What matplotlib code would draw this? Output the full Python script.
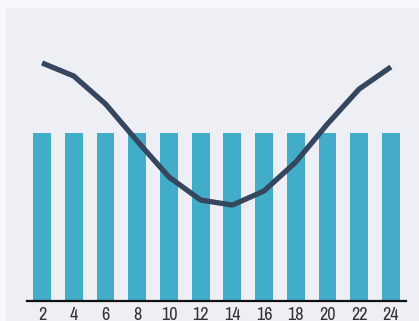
import matplotlib
matplotlib.use("Agg")
import matplotlib.pyplot as plt
from matplotlib.patches import Rectangle

# hours of the day (every second hour) with a constant bar level and a curve
hours = [2, 4, 6, 8, 10, 12, 14, 16, 18, 20, 22, 24]
bar_values = [10, 10, 10, 10, 10, 10, 10, 10, 10, 10, 10, 10]
line_values = [14.17, 13.39, 11.73, 9.52, 7.38, 6.01, 5.71, 6.55, 8.27, 10.54, 12.62, 13.93]
tick_labels = [str(h) for h in hours]

plt.rcParams['font.family'] = ['Liberation Sans Narrow', 'Archivo Narrow', 'DejaVu Sans']

fig = plt.figure(figsize=(4.19, 3.21), dpi=100)
fig.patch.set_facecolor('#f6f7fb')

# inner panel behind the chart
panel = Rectangle((6 / 419, 0), 1 - 6 / 419, 1 - 8 / 321,
                  transform=fig.transFigure, facecolor='#eeeff4',
                  edgecolor='none', zorder=-10)
fig.patches.append(panel)

ax = fig.add_axes([27 / 419, 20 / 321, 379 / 419, 293 / 321])
ax.patch.set_alpha(0)

ax.bar(hours, bar_values, width=1.13, color='#41adc8', zorder=2)
ax.plot(hours, line_values, color='#35475f', linewidth=3.8,
        solid_capstyle='butt', solid_joinstyle='round', zorder=3)

ax.set_xlim(1.05, 24.95)
ax.set_ylim(0, 17.44)
ax.set_xticks(hours)
ax.set_xticklabels(tick_labels)
ax.set_yticks([])
ax.tick_params(axis='x', length=0, pad=4.5, labelsize=13, labelcolor='#333333')

for side in ['top', 'right', 'left']:
    ax.spines[side].set_visible(False)
ax.spines['bottom'].set_color('#111111')
ax.spines['bottom'].set_linewidth(1.6)
ax.spines['bottom'].set_zorder(4)

fig.savefig('out.png', dpi=100, facecolor=fig.get_facecolor())
